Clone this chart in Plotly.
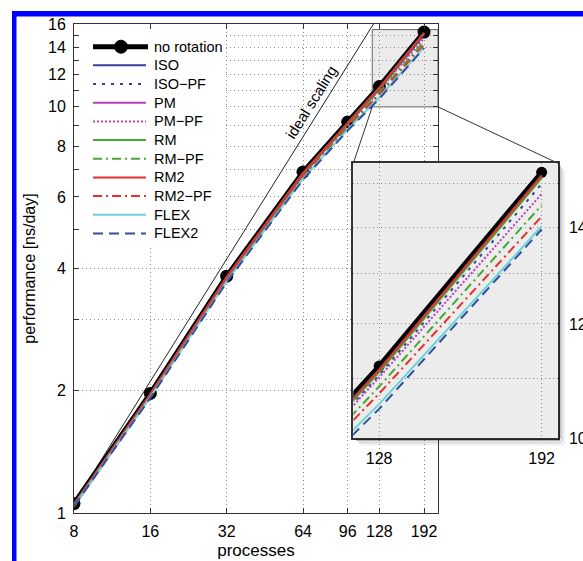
import math
import plotly.graph_objects as go

# ---------------- data ----------------
procs = [8, 16, 32, 64, 96, 128, 192]
x_tick_labels = ["8", "16", "32", "64", "96", "128", "192"]
y_tick_vals = list(range(1, 17))
y_tick_labels = ["1", "2", "", "4", "", "6", "", "8", "", "10", "", "12", "", "14", "", "16"]

no_rotation = [1.055, 1.97, 3.83, 6.91, 9.18, 11.22, 15.28]
iso    = [1.05, 1.96, 3.81, 6.87, 9.13, 11.16, 15.21]
iso_pf = [1.05, 1.95, 3.79, 6.83, 9.06, 11.06, 15.00]
pm     = [1.05, 1.96, 3.80, 6.86, 9.11, 11.13, 15.18]
pm_pf  = [1.05, 1.95, 3.78, 6.81, 9.02, 11.02, 14.76]
rm     = [1.05, 1.96, 3.80, 6.85, 9.09, 11.11, 15.14]
rm_pf  = [1.04, 1.94, 3.76, 6.76, 8.94, 10.86, 14.50]
rm2    = [1.05, 1.96, 3.81, 6.87, 9.12, 11.15, 15.20]
rm2_pf = [1.04, 1.93, 3.74, 6.72, 8.88, 10.74, 14.24]
flex   = [1.04, 1.93, 3.72, 6.66, 8.80, 10.56, 14.02]
flex2  = [1.04, 1.92, 3.70, 6.62, 8.74, 10.48, 13.95]

series = [
    ("ISO", iso, "#3d3d9c", "solid"),
    ("ISO\u2212PF", iso_pf, "#3d3d9c", "3px,6px"),
    ("PM", pm, "#b244b8", "solid"),
    ("PM\u2212PF", pm_pf, "#b244b8", "2px,2px"),
    ("RM", rm, "#45a833", "solid"),
    ("RM\u2212PF", rm_pf, "#45a833", "9px,4px,2px,4px"),
    ("RM2", rm2, "#e3312b", "solid"),
    ("RM2\u2212PF", rm2_pf, "#e3312b", "9px,4px,2px,4px"),
    ("FLEX", flex, "#6dd3d8", "solid"),
    ("FLEX2", flex2, "#2f4f9f", "10px,6px"),
]

# ---------------- layout geometry (pixels) ----------------
W, H = 583, 561
ML, MR, MT, MB = 74, 438, 24, 513          # main axes box
IL, IR, IT, IB = 353.3, 558, 163.3, 438.3  # inset axes box
X_RANGE = (8, 218)
Y_RANGE = (1, 16)
IX_RANGE = (120, 200)
IY_RANGE = (10, 15.5)
FONT = "Liberation Sans, Arial, sans-serif"


def main_px(x, y):
    fx = (math.log10(x) - math.log10(X_RANGE[0])) / (math.log10(X_RANGE[1]) - math.log10(X_RANGE[0]))
    fy = (math.log10(y) - math.log10(Y_RANGE[0])) / (math.log10(Y_RANGE[1]) - math.log10(Y_RANGE[0]))
    return ML + fx * (MR - ML), MB - fy * (MB - MT)


def px(xp):
    return xp / W


def py(yp):
    return 1 - yp / H


fig = go.Figure()

# ideal scaling line
ideal = [no_rotation[0] * p / procs[0] for p in [procs[0], X_RANGE[1]]]
fig.add_trace(go.Scatter(x=[procs[0], X_RANGE[1]], y=ideal, mode="lines",
                         line=dict(color="#222", width=1), showlegend=False, hoverinfo="skip"))

for xa, ya, msize in (("x", "y", 13), ("x2", "y2", 11)):
    fig.add_trace(go.Scatter(x=procs, y=no_rotation, mode="lines+markers", name="no rotation",
                             line=dict(color="black", width=5),
                             marker=dict(color="black", size=msize),
                             xaxis=xa, yaxis=ya, showlegend=False))
    for name, vals, col, dash in series:
        fig.add_trace(go.Scatter(x=procs, y=vals, mode="lines", name=name,
                                 line=dict(color=col, width=2, dash=dash),
                                 xaxis=xa, yaxis=ya, showlegend=False))

grid = dict(showgrid=True, gridcolor="#8a8a8a", gridwidth=1, griddash="1px,3px", automargin=False)
tickfont = dict(family=FONT, size=16, color="black")

fig.update_layout(
    template="none",
    width=W, height=H,
    margin=dict(l=0, r=0, t=0, b=0, autoexpand=False),
    paper_bgcolor="white", plot_bgcolor="white",
    showlegend=False,
    font=dict(family=FONT, color="black"),
    xaxis=dict(type="log", domain=[px(ML), px(MR)], range=[math.log10(v) for v in X_RANGE],
               tickvals=procs, ticktext=x_tick_labels, ticks="inside", ticklen=5, tickcolor="#333",
               showline=True, linecolor="#333", linewidth=1, mirror="ticks", zeroline=False,
               tickfont=tickfont, ticklabelstandoff=4, anchor="y",
               title=dict(text="processes", font=dict(family=FONT, size=17), standoff=4), **grid),
    yaxis=dict(type="log", domain=[py(MB), py(MT)], range=[math.log10(v) for v in Y_RANGE],
               tickvals=y_tick_vals, ticktext=y_tick_labels, ticks="inside", ticklen=5, tickcolor="#333",
               showline=True, linecolor="#333", linewidth=1, mirror="ticks", zeroline=False,
               tickfont=tickfont, ticklabelstandoff=4, anchor="x",
               title=dict(text="performance [ns/day]", font=dict(family=FONT, size=16), standoff=8), **grid),
    xaxis2=dict(type="log", domain=[px(IL), px(IR)], range=[math.log10(v) for v in IX_RANGE],
                tickvals=[128, 192], ticktext=["128", "192"], ticks="", showline=True,
                linecolor="#333", linewidth=1.5, mirror=True, zeroline=False, anchor="y2",
                tickfont=tickfont, ticklabelstandoff=5, **grid),
    yaxis2=dict(type="log", domain=[py(IB), py(IT)], range=[math.log10(v) for v in IY_RANGE],
                tickvals=[10, 11, 12, 13, 14, 15], ticktext=["10", "", "12", "", "14", ""],
                ticks="", showline=True, linecolor="#333", linewidth=1.5, mirror=True,
                zeroline=False, anchor="x2", side="right", tickfont=tickfont,
                ticklabelstandoff=6, **grid),
)

shapes = []
# zoom rectangle in main axes
shapes.append(dict(type="rect", xref="x", yref="y", x0=IX_RANGE[0], x1=X_RANGE[1],
                   y0=IY_RANGE[0], y1=IY_RANGE[1], fillcolor="#ebebeb",
                   line=dict(color="#666", width=1), layer="below"))
# inset background
shapes.append(dict(type="rect", xref="x2", yref="y2", x0=100, x1=300, y0=5, y1=30,
                   fillcolor="#ececec", line=dict(width=0), layer="below"))
# connectors
bl = main_px(IX_RANGE[0], IY_RANGE[0])
br = main_px(X_RANGE[1], IY_RANGE[0])
shapes.append(dict(type="line", xref="paper", yref="paper", x0=px(bl[0]), y0=py(bl[1]),
                   x1=px(IL), y1=py(IT), line=dict(color="#333", width=1), layer="above"))
shapes.append(dict(type="line", xref="paper", yref="paper", x0=px(br[0]), y0=py(br[1]),
                   x1=px(IR), y1=py(IT), line=dict(color="#333", width=1), layer="above"))
# inset shadow
for off, op in ((0, 0.30), (2.2, 0.14), (4.2, 0.06)):
    shapes.append(dict(type="rect", xref="paper", yref="paper",
                       x0=px(IL + 3 + off), x1=px(IR + 2 + off),
                       y0=py(IB + 0.8 + off), y1=py(IB + 2.8 + off),
                       fillcolor=f"rgba(0,0,0,{op})", line=dict(width=0), layer="above"))
    shapes.append(dict(type="rect", xref="paper", yref="paper",
                       x0=px(IR + 0.8 + off), x1=px(IR + 2.8 + off),
                       y0=py(IT + 3 + off), y1=py(IB + 0.8 + off),
                       fillcolor=f"rgba(0,0,0,{op})", line=dict(width=0), layer="above"))

# legend box
LX0, LX1, LTXT = 93, 146, 152
LY0, LDY = 46.7, 18.67
shapes.append(dict(type="rect", xref="paper", yref="paper", x0=px(80), x1=px(226),
                   y0=py(31), y1=py(247), fillcolor="white", line=dict(width=0), layer="above"))
annotations = []
legend_items = [("no rotation", "black", "solid")] + [(n, c, d) for n, _, c, d in series]
for i, (name, col, dash) in enumerate(legend_items):
    yy = LY0 + i * LDY
    shapes.append(dict(type="line", xref="paper", yref="paper", x0=px(LX0), x1=px(LX1 + (2 if i == 0 else 0)),
                       y0=py(yy), y1=py(yy),
                       line=dict(color=col, width=5 if i == 0 else 2, dash=dash), layer="above"))
    annotations.append(dict(x=px(LTXT), y=py(yy), xref="paper", yref="paper", text=name,
                            showarrow=False, xanchor="left", yanchor="middle",
                            font=dict(family=FONT, size=14.5, color="black")))
# legend marker
shapes.append(dict(type="circle", xref="paper", yref="paper", xsizemode="pixel", ysizemode="pixel",
                   xanchor=px(121), yanchor=py(LY0), x0=-6.5, x1=6.5, y0=-6.5, y1=6.5,
                   fillcolor="black", line=dict(color="black", width=1), layer="above"))

# blue frame
shapes.append(dict(type="rect", xref="paper", yref="paper", x0=px(12), x1=1.01, y0=py(16.5), y1=py(11),
                   fillcolor="#0000ff", line=dict(width=0), layer="above"))
shapes.append(dict(type="rect", xref="paper", yref="paper", x0=px(12), x1=px(16.5), y0=-0.01, y1=py(11),
                   fillcolor="#0000ff", line=dict(width=0), layer="above"))

# ideal scaling label
p_lab = 78
lx, ly = main_px(p_lab, no_rotation[0] * p_lab / procs[0])
sx = (MR - ML) / (math.log10(X_RANGE[1]) - math.log10(X_RANGE[0]))
sy = (MB - MT) / (math.log10(Y_RANGE[1]) - math.log10(Y_RANGE[0]))
ang = math.degrees(math.atan2(sy, sx))
annotations.append(dict(x=px(lx - 13), y=py(ly), xref="paper", yref="paper", text="ideal scaling",
                        showarrow=False, textangle=-ang, xanchor="center", yanchor="middle",
                        font=dict(family=FONT, size=15, color="black")))

fig.update_layout(shapes=shapes, annotations=annotations)
fig.write_html("out.html", config={"displayModeBar": False},
               post_script="document.body.style.margin='0px';document.body.style.padding='0px';")
